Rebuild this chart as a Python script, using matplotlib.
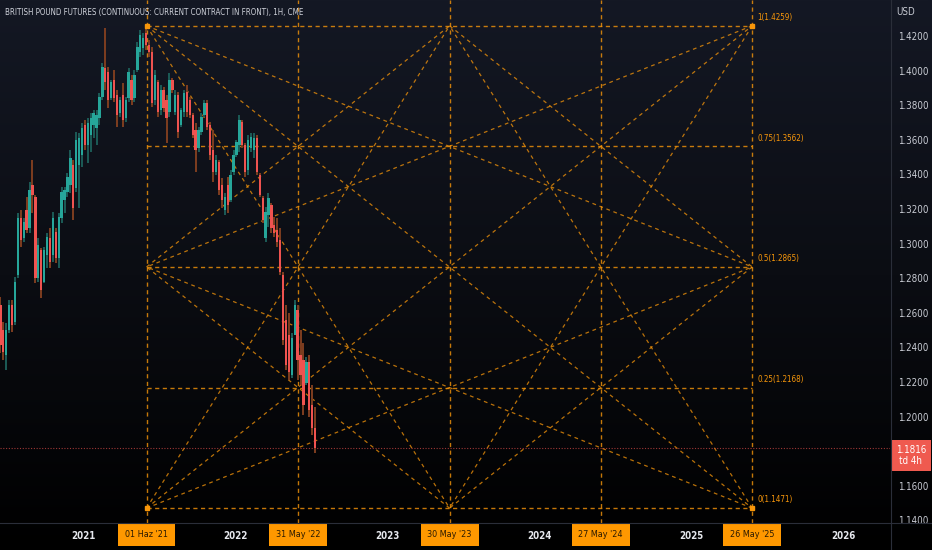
#!/usr/bin/env python3
# -*- coding: utf-8 -*-

import matplotlib

matplotlib.use("Agg")

import matplotlib.dates as mdates
import matplotlib.pyplot as plt
import numpy as np
import pandas as pd
from matplotlib.colors import LinearSegmentedColormap
from matplotlib.lines import Line2D

plt.rcParams["font.family"] = ["DejaVu Sans"]
plt.rcParams["font.stretch"] = "condensed"

TITLE = "BRITISH POUND FUTURES (CONTINUOUS: CURRENT CONTRACT IN FRONT), 1H, CME"

# weekly candles, first one in the week of 15 Jun 2020
candle_start = "2020-06-15"

opens = [
    1.2645, 1.2501, 1.2356, 1.2501, 1.2645, 1.2547, 1.2819, 1.3148, 1.3032, 1.3194,
    1.3090, 1.3339, 1.3269, 1.2801, 1.2963, 1.2778, 1.2934, 1.3032, 1.2934, 1.3067,
    1.2917, 1.3148, 1.3252, 1.3298, 1.3339, 1.3454, 1.3321, 1.3454, 1.3512, 1.3686,
    1.3570, 1.3628, 1.3686, 1.3668, 1.3726, 1.3847, 1.4015, 1.3992, 1.3842, 1.3946,
    1.3859, 1.3755, 1.3859, 1.3726, 1.3842, 1.3946, 1.3842, 1.4003, 1.4107, 1.4131,
    1.4217, 1.4148, 1.4107, 1.3830, 1.3934, 1.3772, 1.3888, 1.3830, 1.3761, 1.3946,
    1.3761, 1.3859, 1.3686, 1.3761, 1.3876, 1.3830, 1.3743, 1.3657, 1.3553, 1.3645,
    1.3743, 1.3813, 1.3686, 1.3541, 1.3414, 1.3472, 1.3339, 1.3194, 1.3339, 1.3252,
    1.3414, 1.3512, 1.3570, 1.3703, 1.3570, 1.3425, 1.3553, 1.3541, 1.3610, 1.3397,
    1.3264, 1.3032, 1.3165, 1.3223, 1.3108, 1.3079, 1.3021, 1.2819, 1.2558, 1.2472,
    1.2241, 1.2472, 1.2616, 1.2356, 1.2327, 1.2194, 1.2316, 1.2067, 1.1934,
]
highs = [
    1.2691, 1.2547, 1.2541, 1.2674, 1.2674, 1.2807, 1.3177, 1.3194, 1.3148, 1.3269,
    1.3356, 1.3483, 1.3281, 1.3032, 1.2975, 1.2980, 1.3061, 1.3090, 1.3183, 1.3090,
    1.3177, 1.3327, 1.3327, 1.3408, 1.3541, 1.3483, 1.3645, 1.3639, 1.3697, 1.3714,
    1.3726, 1.3755, 1.3772, 1.3772, 1.3871, 1.4044, 1.4246, 1.4021, 1.3946, 1.4003,
    1.3888, 1.3847, 1.3928, 1.3847, 1.4015, 1.3975, 1.4003, 1.4165, 1.4235, 1.4217,
    1.4259, 1.4177, 1.4136, 1.4003, 1.3946, 1.3917, 1.3905, 1.3859, 1.3986, 1.3957,
    1.3888, 1.3876, 1.3784, 1.3888, 1.3917, 1.3847, 1.3755, 1.3697, 1.3674, 1.3755,
    1.3830, 1.3830, 1.3703, 1.3657, 1.3512, 1.3483, 1.3379, 1.3293, 1.3385, 1.3425,
    1.3541, 1.3599, 1.3743, 1.3714, 1.3582, 1.3628, 1.3639, 1.3639, 1.3628, 1.3408,
    1.3275, 1.3212, 1.3293, 1.3235, 1.3154, 1.3148, 1.3090, 1.2836, 1.2645, 1.2599,
    1.2483, 1.2674, 1.2645, 1.2501, 1.2426, 1.2345, 1.2356, 1.2183, 1.2056,
]
lows = [
    1.2368, 1.2327, 1.2269, 1.2483, 1.2489, 1.2530, 1.2801, 1.2980, 1.3009, 1.3061,
    1.3061, 1.3177, 1.2772, 1.2778, 1.2686, 1.2772, 1.2859, 1.2859, 1.2894, 1.2888,
    1.2859, 1.3119, 1.3177, 1.3269, 1.3293, 1.3136, 1.3298, 1.3206, 1.3443, 1.3541,
    1.3466, 1.3529, 1.3610, 1.3570, 1.3686, 1.3830, 1.3888, 1.3784, 1.3830, 1.3818,
    1.3674, 1.3732, 1.3674, 1.3703, 1.3818, 1.3801, 1.3818, 1.3992, 1.4079, 1.4090,
    1.4119, 1.4079, 1.3790, 1.3801, 1.3732, 1.3743, 1.3761, 1.3582, 1.3732, 1.3871,
    1.3743, 1.3610, 1.3674, 1.3732, 1.3732, 1.3726, 1.3610, 1.3414, 1.3529, 1.3628,
    1.3732, 1.3657, 1.3483, 1.3356, 1.3397, 1.3281, 1.3206, 1.3165, 1.3177, 1.3240,
    1.3397, 1.3501, 1.3529, 1.3553, 1.3385, 1.3397, 1.3529, 1.3495, 1.3397, 1.3269,
    1.3119, 1.3009, 1.3096, 1.3061, 1.3038, 1.2980, 1.2819, 1.2414, 1.2269, 1.2212,
    1.2223, 1.2472, 1.2212, 1.2183, 1.2009, 1.2183, 1.1998, 1.1894, 1.1790,
]
closes = [
    1.2414, 1.2373, 1.2501, 1.2645, 1.2530, 1.2778, 1.3148, 1.3021, 1.3125, 1.3079,
    1.3310, 1.3281, 1.2801, 1.2992, 1.2732, 1.2963, 1.3038, 1.2894, 1.3148, 1.2917,
    1.3154, 1.3298, 1.3310, 1.3385, 1.3495, 1.3206, 1.3599, 1.3610, 1.3668, 1.3570,
    1.3697, 1.3726, 1.3755, 1.3743, 1.3847, 1.4021, 1.3934, 1.3830, 1.3934, 1.3842,
    1.3743, 1.3830, 1.3714, 1.3830, 1.3992, 1.3830, 1.3975, 1.4136, 1.4206, 1.4188,
    1.4148, 1.4107, 1.3813, 1.3975, 1.3761, 1.3888, 1.3784, 1.3726, 1.3946, 1.3888,
    1.3859, 1.3645, 1.3772, 1.3871, 1.3761, 1.3743, 1.3628, 1.3541, 1.3657, 1.3732,
    1.3813, 1.3674, 1.3512, 1.3414, 1.3483, 1.3310, 1.3252, 1.3269, 1.3223, 1.3397,
    1.3512, 1.3587, 1.3714, 1.3570, 1.3414, 1.3599, 1.3616, 1.3610, 1.3414, 1.3281,
    1.3136, 1.3183, 1.3264, 1.3090, 1.3061, 1.3009, 1.2836, 1.2443, 1.2298, 1.2258,
    1.2454, 1.2645, 1.2327, 1.2241, 1.2067, 1.2316, 1.2038, 1.1934, 1.1816,
]

last_price = 1.1816
last_tag = "td 4h"

# gann box
gann_dates = ["2021-06-01", "2022-05-31", "2023-05-30", "2024-05-27", "2025-05-26"]
gann_date_labels = ["01 Haz '21", "31 May '22", "30 May '23", "27 May '24", "26 May '25"]
gann_levels = [1.1471, 1.2168, 1.2865, 1.3562, 1.4259]
gann_ratios = ["0", "0.25", "0.5", "0.75", "1"]

years = ["2021", "2022", "2023", "2024", "2025", "2026"]
price_ticks = [1.14, 1.16, 1.20, 1.22, 1.24, 1.26, 1.28, 1.30,
               1.32, 1.34, 1.36, 1.38, 1.40, 1.42]

x_range = ("2020-06-14", "2026-04-22")
y_range = (1.1385, 1.4408)

GANN = "#f7960a"
TEXT = "#c9ccd4"
W, H = 932, 550


def draw_background(fig):
    bg = fig.add_axes([0, 0, 1, 1], zorder=-10)
    cmap = LinearSegmentedColormap.from_list("tv", ["#141824", "#0b0d13", "#000000"])
    grad = np.linspace(0, 1, 256).reshape(-1, 1)
    bg.imshow(grad, aspect="auto", cmap=cmap, extent=[0, 1, 0, 1])
    bg.axis("off")


def draw_candles(ax):
    dates = mdates.date2num(pd.date_range(candle_start, periods=len(closes), freq="7D"))
    o = np.array(opens)
    h = np.array(highs)
    lo = np.array(lows)
    c = np.array(closes)
    up = c >= o
    body_col = np.where(up, "#26a69a", "#ef5350")
    wick_col = np.where(up, "#1b5955", "#7b3c1f")
    ax.bar(dates, h - lo, bottom=lo, width=4.8, color=wick_col, zorder=3)
    ax.bar(dates, np.maximum(np.abs(c - o), 0.0004), bottom=np.minimum(o, c),
           width=5.6, color=body_col, zorder=4)


def draw_gann_box(ax):
    xs = mdates.date2num(pd.to_datetime(gann_dates))
    x0, xm, x1 = xs[0], xs[2], xs[-1]
    y0, ym, y1 = gann_levels[0], gann_levels[2], gann_levels[-1]

    dash = (0, (3, 2.5))
    for x in xs:
        ax.axvline(x, color=GANN, lw=1.0, linestyle=dash, alpha=0.8, zorder=2)
    ax.hlines(gann_levels, x0, x1, colors=GANN, lw=1.0, linestyles=[dash], alpha=0.8, zorder=2)

    segments = [
        ((x0, y1), (x1, y0)), ((x0, y0), (x1, y1)),
        ((x0, y1), (x1, ym)), ((x0, y1), (xm, y0)),
        ((x1, y1), (x0, ym)), ((x1, y1), (xm, y0)),
        ((x0, y0), (x1, ym)), ((x0, y0), (xm, y1)),
        ((x1, y0), (x0, ym)), ((x1, y0), (xm, y1)),
        ((x0, ym), (xm, y1)), ((xm, y1), (x1, ym)),
        ((x1, ym), (xm, y0)), ((xm, y0), (x0, ym)),
    ]
    for (xa, ya), (xb, yb) in segments:
        ax.plot([xa, xb], [ya, yb], color=GANN, lw=0.9, linestyle=(0, (3, 3)),
                alpha=0.75, zorder=2)

    ax.plot([x0, x1, x0, x1], [y0, y0, y1, y1], "s", ms=2.2, color=GANN, zorder=5)

    for ratio, lvl in zip(gann_ratios, gann_levels):
        ax.annotate(f"{ratio}({lvl:.4f})", xy=(x1, lvl), xytext=(3.5, 6),
                    textcoords="offset points", fontsize=5.8, color=GANN,
                    ha="left", va="center")

    for x, lab in zip(xs, gann_date_labels):
        ax.annotate(lab, xy=(x, 0), xycoords=("data", "axes fraction"),
                    xytext=(0, -8.5), textcoords="offset points",
                    ha="center", va="center", fontsize=6.5, color="#2b1a02",
                    bbox=dict(boxstyle="square,pad=0.75", fc="#ff9800", ec="none"),
                    annotation_clip=False, zorder=6)


def main():
    fig = plt.figure(figsize=(W / 100, H / 100), dpi=100)
    draw_background(fig)

    ax = fig.add_axes([0, 27 / H, 890 / W, 523 / H])
    ax.patch.set_alpha(0)
    for sp in ax.spines.values():
        sp.set_visible(False)

    draw_candles(ax)
    draw_gann_box(ax)

    ax.axhline(last_price, color="#ef5350", lw=0.8, linestyle=(0, (1, 1.5)),
               alpha=0.65, zorder=2)

    ax.set_xlim(mdates.date2num(pd.to_datetime(x_range[0])),
                mdates.date2num(pd.to_datetime(x_range[1])))
    ax.set_ylim(*y_range)

    ax.set_xticks(mdates.date2num(pd.to_datetime([f"{y}-01-01" for y in years])))
    ax.set_xticklabels(years, fontsize=7, color="#e6e8ee", fontweight="bold")
    ax.tick_params(axis="x", length=0, pad=6)

    ax.yaxis.tick_right()
    ax.set_yticks(price_ticks)
    ax.set_yticklabels([f"{t:.4f}" for t in price_ticks])
    ax.tick_params(axis="y", length=0, pad=6, labelsize=7, labelcolor=TEXT)

    # last price tag
    ax.annotate(f"{last_price:.4f}\n{last_tag}", xy=(1, last_price),
                xycoords=("axes fraction", "data"), xytext=(15, -5),
                textcoords="offset points", ha="center", va="center",
                fontsize=7, color="white", linespacing=1.2,
                bbox=dict(boxstyle="square,pad=0.5", fc="#ef5a4f", ec="none"),
                annotation_clip=False, zorder=10)

    # pane separators
    fig.add_artist(Line2D([890.5 / W, 890.5 / W], [0, 1], color="#2a2e39", lw=0.8))
    fig.add_artist(Line2D([0, 1], [27 / H, 27 / H], color="#2a2e39", lw=0.8))

    fig.text(5 / W, 1 - 13 / H, TITLE, fontsize=5.7, color="#d1d4dc", va="center")
    fig.text(896 / W, 1 - 12 / H, "USD", fontsize=7, color=TEXT, va="center")

    fig.savefig("out.png", dpi=100, facecolor="black")


if __name__ == "__main__":
    main()
